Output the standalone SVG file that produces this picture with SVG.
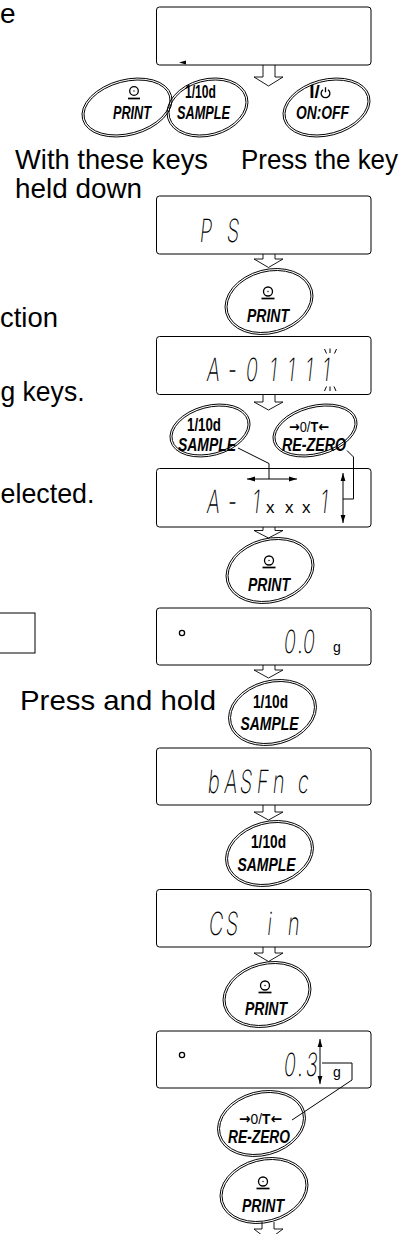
<svg xmlns="http://www.w3.org/2000/svg" width="418" height="1234" viewBox="0 0 418 1234">
<style>
.bg{fill:#fff}
.disp{fill:none;stroke:#000;stroke-width:1}
.key ellipse{fill:none;stroke:#000;stroke-width:0.9}
.kl{font-family:"Liberation Sans",Arial,sans-serif;font-weight:bold;font-style:italic;font-size:19px;text-anchor:middle;fill:#000}
.kn{font-family:"Liberation Sans",Arial,sans-serif;font-weight:bold;font-size:19px;text-anchor:middle;fill:#000}
.kr{font-family:"Liberation Sans",Arial,sans-serif;font-size:15px;text-anchor:middle;fill:#000}
.ar{font-family:"DejaVu Sans","Liberation Sans",sans-serif;font-weight:bold}
.big{font-family:"Liberation Sans",Arial,sans-serif;font-size:28px;fill:#000}
.seg{font-family:Inter,"DejaVu Sans",sans-serif;font-size:32px;font-weight:200;fill:#000}
.xs{font-family:"Liberation Sans",Arial,sans-serif;font-size:17px;fill:#000}
.gu{font-family:"Liberation Sans",Arial,sans-serif;font-size:14px;fill:#000}
.ln{fill:none;stroke:#000;stroke-width:1}
.ha{fill:none;stroke:#000;stroke-width:0.9}
.sym{fill:none;stroke:#000;stroke-width:1.3}
.ul{stroke:#000;stroke-width:1.7}
</style>
<defs>
<marker id="ah" viewBox="0 0 10 10" refX="10" refY="5" markerWidth="8" markerHeight="8" orient="auto-start-reverse" markerUnits="userSpaceOnUse"><path d="M0,2 L10,5 L0,8z" fill="#000"/></marker>
</defs>
<rect class="bg" x="0" y="0" width="418" height="1234"/>

<g id="left-text">
<text class="big" x="0" y="23" font-size="26">e</text>
<text class="big" x="15" y="169" textLength="193" lengthAdjust="spacingAndGlyphs">With these keys</text>
<text class="big" x="241" y="169" textLength="157" lengthAdjust="spacingAndGlyphs">Press the key</text>
<text class="big" x="15" y="198" textLength="127" lengthAdjust="spacingAndGlyphs">held down</text>
<text class="big" x="0" y="327" textLength="58" lengthAdjust="spacingAndGlyphs">ction</text>
<text class="big" x="0.5" y="401" textLength="84" lengthAdjust="spacingAndGlyphs">g keys.</text>
<text class="big" x="0.5" y="503" textLength="94" lengthAdjust="spacingAndGlyphs">elected.</text>
<rect x="-5" y="613" width="40" height="40" class="disp"/>
<text class="big" x="20" y="710" textLength="196" lengthAdjust="spacingAndGlyphs">Press and hold</text>
</g>

<g id="d1"><rect class="disp" x="156.5" y="7" width="214.5" height="58" rx="3"/><polygon points="179,62.5 186,60.5 186,64.5" fill="#000"/></g>
<g id="d2"><rect class="disp" x="156.5" y="196" width="214.5" height="58" rx="3"/>
<text class="seg" transform="translate(0,242) skewX(-6) scale(0.62,1)" x="321 364.5" y="0">PS</text></g>
<g id="d3"><rect class="disp" x="156.5" y="336.5" width="214.5" height="58" rx="3"/>
<text class="seg" transform="translate(0,381) skewX(-6) scale(0.62,1)" x="332.3 366.1 395.2 433.1 462.1 491.1 518.5" y="0">A-01111</text>
<path class="ln" d="M324.5,349 L326.5,353.5 M330,348.5 V353 M336.5,349 L334.5,353.5 M324.5,391 L326.5,386.5 M330,386.5 V391 M336,391 L334,386.5" stroke-width="0.8"/></g>
<g id="d4"><rect class="disp" x="156.5" y="468.5" width="214.5" height="58.5" rx="3"/>
<text class="seg" transform="translate(0,513) skewX(-6) scale(0.62,1)" x="332.3 366.1 405.6" y="0">A-1</text>
<text class="xs" x="266 285 302" y="513">xxx</text>
<text class="seg" transform="translate(0,513) skewX(-6) scale(0.62,1)" x="515.3" y="0">1</text></g>
<g id="d5"><rect class="disp" x="156.5" y="608" width="214.5" height="57" rx="3"/>
<circle cx="182" cy="633" r="2.6" class="sym" stroke-width="1.8"/>
<text class="seg" transform="translate(0,653) skewX(-6) scale(0.62,1)" x="456.5 479 487.1" y="0">0.0</text>
<text class="gu" x="333" y="652">g</text></g>
<g id="d6"><rect class="disp" x="156.5" y="748" width="214.5" height="57" rx="3"/>
<text class="seg" transform="translate(0,793) skewX(-6) scale(0.62,1)" x="333.9 360.5 385.5 412.9 438.7 478.9" y="0">bASFnc</text></g>
<g id="d7"><rect class="disp" x="156.5" y="889.5" width="214.5" height="57.5" rx="3"/>
<text class="seg" transform="translate(0,935) skewX(-6) scale(0.62,1)" x="335.5 362.9 400 430 462.9 475.8" y="0">CS  in</text></g>
<g id="d8"><rect class="disp" x="156.5" y="1031" width="214.5" height="57" rx="3"/>
<circle cx="182" cy="1055" r="2.6" class="sym" stroke-width="1.8"/>
<text class="seg" transform="translate(0,1076) skewX(-6) scale(0.62,1)" x="456.5 479 492" y="0">0.3</text>
<text class="gu" x="333" y="1077">g</text></g>

<g id="k1-print" class="key" transform="translate(127,107.5)">
<ellipse rx="46" ry="27.9" transform="rotate(-15)"/><ellipse rx="44" ry="25.9" transform="rotate(-15)"/>
<circle cx="7" cy="-16.5" r="4.3" class="sym"/><circle cx="7" cy="-16.5" r="0.7" fill="#000"/>
<line class="ul" x1="1" y1="-9" x2="13" y2="-9"/>
<text class="kl" x="5" y="11.5" textLength="38" lengthAdjust="spacingAndGlyphs">PRINT</text></g>
<g id="k1-sample" class="key" transform="translate(207.5,107.5)">
<ellipse rx="41.2" ry="28.5" transform="rotate(-15)"/><ellipse rx="39.2" ry="26.5" transform="rotate(-15)"/>
<text class="kn" x="-7" y="-9.5" textLength="31" lengthAdjust="spacingAndGlyphs">1/10d</text>
<text class="kl" x="-4" y="11.5" textLength="53" lengthAdjust="spacingAndGlyphs">SAMPLE</text></g>
<g id="k1-onoff" class="key" transform="translate(326.5,107.5)">
<ellipse rx="44.4" ry="28.1" transform="rotate(-15)"/><ellipse rx="42.4" ry="26.1" transform="rotate(-15)"/>
<text class="kn" x="-12" y="-9.5" font-size="15">I/</text>
<g transform="translate(-1,-14.5)"><path class="sym" d="M-2.5,-3.3 A4.4,4.4 0 1 0 2.5,-3.3 M0,-5.8 V-0.8"/></g>
<text class="kl" x="-4" y="11.5" textLength="53" lengthAdjust="spacingAndGlyphs">ON:OFF</text></g>

<g id="k2-print" class="key" transform="translate(269,301.5)">
<ellipse rx="44.7" ry="32" transform="rotate(-15)"/><ellipse rx="42.7" ry="30" transform="rotate(-15)"/>
<circle cx="-1" cy="-10" r="4.5" class="sym"/><circle cx="-1" cy="-10" r="0.7" fill="#000"/>
<line class="ul" x1="-7.5" y1="-3" x2="5.5" y2="-3"/>
<text class="kl" x="-1" y="20" textLength="42" lengthAdjust="spacingAndGlyphs">PRINT</text></g>

<g id="k3-sample" class="key" transform="translate(210,430.5)">
<ellipse rx="40.9" ry="25.1" transform="rotate(-15)"/><ellipse rx="38.9" ry="23.1" transform="rotate(-15)"/>
<text class="kn" x="-6" y="0.5" textLength="34" lengthAdjust="spacingAndGlyphs">1/10d</text>
<text class="kl" x="-3" y="20.5" textLength="58" lengthAdjust="spacingAndGlyphs">SAMPLE</text></g>
<g id="k3-rezero" class="key" transform="translate(315,430.5)">
<ellipse rx="43" ry="24.9" transform="rotate(-15)"/><ellipse rx="41" ry="22.9" transform="rotate(-15)"/>
<text class="kr" x="-6" y="1.5" textLength="40" lengthAdjust="spacingAndGlyphs"><tspan class="ar">→</tspan>0/<tspan font-weight="bold">T</tspan><tspan class="ar">←</tspan></text>
<text class="kl" x="-1" y="20.5" textLength="64" lengthAdjust="spacingAndGlyphs">RE-ZERO</text></g>

<g id="k4-print" class="key" transform="translate(270,570.5)">
<ellipse rx="44.7" ry="32" transform="rotate(-15)"/><ellipse rx="42.7" ry="30" transform="rotate(-15)"/>
<circle cx="-1" cy="-10" r="4.5" class="sym"/><circle cx="-1" cy="-10" r="0.7" fill="#000"/>
<line class="ul" x1="-7.5" y1="-3" x2="5.5" y2="-3"/>
<text class="kl" x="-1" y="20" textLength="42" lengthAdjust="spacingAndGlyphs">PRINT</text></g>

<g id="k5-sample" class="key" transform="translate(272.5,712.5)">
<ellipse rx="44.7" ry="32" transform="rotate(-15)"/><ellipse rx="42.7" ry="30" transform="rotate(-15)"/>
<text class="kn" x="-2" y="-5" textLength="35" lengthAdjust="spacingAndGlyphs">1/10d</text>
<text class="kl" x="-3" y="17.5" textLength="58" lengthAdjust="spacingAndGlyphs">SAMPLE</text></g>
<g id="k6-sample" class="key" transform="translate(269.5,853.5)">
<ellipse rx="44.7" ry="32" transform="rotate(-15)"/><ellipse rx="42.7" ry="30" transform="rotate(-15)"/>
<text class="kn" x="-1" y="-5.5" textLength="35" lengthAdjust="spacingAndGlyphs">1/10d</text>
<text class="kl" x="-3" y="17.5" textLength="58" lengthAdjust="spacingAndGlyphs">SAMPLE</text></g>

<g id="k7-print" class="key" transform="translate(267,994.5)">
<ellipse rx="44.7" ry="32" transform="rotate(-15)"/><ellipse rx="42.7" ry="30" transform="rotate(-15)"/>
<circle cx="-2" cy="-9" r="4.5" class="sym"/><circle cx="-2" cy="-9" r="0.7" fill="#000"/>
<line class="ul" x1="-8.5" y1="-2" x2="4.5" y2="-2"/>
<text class="kl" x="-1" y="20" textLength="42" lengthAdjust="spacingAndGlyphs">PRINT</text></g>

<g id="k8-rezero" class="key" transform="translate(261.5,1123.5)">
<ellipse rx="44.7" ry="32" transform="rotate(-15)"/><ellipse rx="42.7" ry="30" transform="rotate(-15)"/>
<text class="kr" x="-1" y="0" textLength="43" lengthAdjust="spacingAndGlyphs"><tspan class="ar">→</tspan>0/<tspan font-weight="bold">T</tspan><tspan class="ar">←</tspan></text>
<text class="kl" x="-2.5" y="19.5" textLength="62" lengthAdjust="spacingAndGlyphs">RE-ZERO</text></g>

<g id="k9-print" class="key" transform="translate(264,1190.5)">
<ellipse rx="44.7" ry="32" transform="rotate(-15)"/><ellipse rx="42.7" ry="30" transform="rotate(-15)"/>
<circle cx="-1" cy="-9" r="4.5" class="sym"/><circle cx="-1" cy="-9" r="0.7" fill="#000"/>
<line class="ul" x1="-7.5" y1="-2" x2="5.5" y2="-2"/>
<text class="kl" x="-1" y="21" textLength="42" lengthAdjust="spacingAndGlyphs">PRINT</text></g>

<g id="connectors">
<path class="ha" d="M263,65 V77 H254 L268.5,86 L283,77 H275 V65"/>
<path class="ha" d="M263,254 V259 H254 L268.5,267.5 L283,259 H275 V254"/>
<path class="ha" d="M263,394.5 V402 H254 L268.5,410 L283,402 H275 V394.5"/>
<path class="ha" d="M263,527 V530.5 H254 L268.5,538 L283,530.5 H275 V527"/>
<path class="ha" d="M263,665 V670 H254 L268.5,678 L283,670 H275 V665"/>
<path class="ha" d="M263,805 V812 H254 L268.5,820 L283,812 H275 V805"/>
<path class="ha" d="M263,947 V953 H254 L268.5,961.5 L283,953 H275 V947"/>
<path class="ha" d="M262,1222 V1229 H254 L268,1240 L283,1229 H274 V1222"/>
<path class="ln" d="M238,448 L269,463.5 V479"/>
<path class="ln" d="M247,479 H297" marker-start="url(#ah)" marker-end="url(#ah)"/>
<path class="ln" d="M347,450.5 L353.5,457 V499 H343"/>
<path class="ln" d="M343,473 V523" marker-start="url(#ah)" marker-end="url(#ah)"/>
<path class="ln" d="M320,1039 V1084" marker-start="url(#ah)" marker-end="url(#ah)"/>
<path class="ln" d="M322,1063 H352 V1080 L292,1120"/>
</g>
</svg>
